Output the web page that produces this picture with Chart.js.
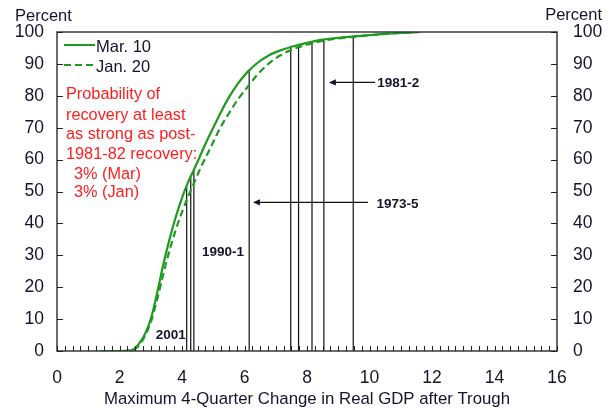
<!DOCTYPE html>
<html><head><meta charset="utf-8">
<script src="https://cdn.jsdelivr.net/npm/chart.js@4/dist/chart.umd.min.js"></script>
<style>html,body{margin:0;padding:0;background:#fff}#wrap{width:612px;height:410px;position:relative}</style>
</head><body><div id="wrap"><canvas id="c" width="612" height="410"></canvas></div>
<script>
// ---- data ----
const gridX = [1.4, 2.0, 2.4, 2.6, 2.8, 3.0, 3.2, 3.4, 3.6, 3.8, 4.0, 4.2, 4.4, 4.6, 4.8, 5.0, 5.2, 5.5, 5.8, 6.1, 6.4, 6.8, 7.2, 7.6, 8.0, 8.5, 9.0, 9.5, 10.0, 10.5, 11.0, 11.6];
const mar10 = [0, 0, 0.3, 2, 5, 10, 18, 27, 35, 42, 48, 53, 57.2, 61.6, 66, 70, 74, 79.5, 84, 87.5, 90.2, 92.8, 94.4, 95.6, 96.6, 97.6, 98.2, 98.6, 99.0, 99.4, 99.7, 100];
const jan20 = [0, 0, 0.2, 1.5, 4.5, 9, 16, 24, 31.5, 38, 43.5, 48.5, 53, 57.5, 61.5, 65.5, 69.5, 74.5, 79, 82.8, 86.5, 90.3, 93, 94.8, 96, 97.2, 98, 98.5, 99, 99.4, 99.7, 100];
const recoveryX = [4.15, 4.28, 4.38, 6.15, 7.48, 7.73, 8.16, 8.54, 9.48];
const recoveryTop = [51.5, 54.5, 56.5, 88, 95.3, 95.9, 96.9, 97.6, 98.5];
const xTickValues = [0, 2, 4, 6, 8, 10, 12, 14, 16];
const yTickValues = [0, 10, 20, 30, 40, 50, 60, 70, 80, 90, 100];
const seriesNames = ['Mar. 10', 'Jan. 20'];
const noteLines = ['Probability of', 'recovery at least', 'as strong as post-', '1981-82 recovery:', '  3% (Mar)', '  3% (Jan)'];
const episodeLabels = ['1981-2', '1973-5', '1990-1', '2001'];

// ---- styles ----
const FONT = '"Liberation Sans", Arial, sans-serif';
const TXT = '#14142a';
const GREEN = '#1f9a1f';

const recoverySegments = [];
recoveryX.forEach((x, i) => {
  recoverySegments.push({x: x, y: 0}, {x: x, y: recoveryTop[i]}, {x: x, y: null});
});

const decor = {
  id: 'decor',
  afterDatasetsDraw(chart) {
    const ctx = chart.ctx, a = chart.chartArea;
    const xs = chart.scales.x, ys = chart.scales.y;
    ctx.save();
    // frame
    ctx.strokeStyle = '#3a3a3a';
    ctx.lineWidth = 1.5;
    ctx.strokeRect(a.left, a.top, a.right - a.left, a.bottom - a.top);
    // inward ticks
    ctx.lineWidth = 1;
    ctx.strokeStyle = '#222';
    ctx.beginPath();
    for (let k = 0; k <= 64; k++) {
      const px = Math.round(xs.getPixelForValue(k * 0.25)) + 0.5;
      ctx.moveTo(px, a.bottom); ctx.lineTo(px, a.bottom - 5);
    }
    yTickValues.forEach(v => {
      const py = Math.round(ys.getPixelForValue(v)) + 0.5;
      ctx.moveTo(a.left, py); ctx.lineTo(a.left + 6, py);
      ctx.moveTo(a.right, py); ctx.lineTo(a.right - 6, py);
    });
    ctx.stroke();

    // Percent labels
    ctx.fillStyle = TXT;
    ctx.font = '16.5px ' + FONT;
    ctx.textBaseline = 'middle';
    ctx.textAlign = 'left';
    ctx.fillText('Percent', 15, 16);
    ctx.textAlign = 'right';
    ctx.fillText('Percent', 602, 15);

    // legend
    ctx.textAlign = 'left';
    ctx.lineWidth = 2;
    ctx.strokeStyle = GREEN;
    ctx.setLineDash([]);
    ctx.beginPath(); ctx.moveTo(64, 45); ctx.lineTo(95, 45); ctx.stroke();
    ctx.setLineDash([7, 4]);
    ctx.beginPath(); ctx.moveTo(64, 65); ctx.lineTo(95, 65); ctx.stroke();
    ctx.setLineDash([]);
    ctx.fillStyle = TXT;
    ctx.font = '16.5px ' + FONT;
    ctx.fillText(seriesNames[0], 96, 47);
    ctx.fillText(seriesNames[1], 96, 67);

    // red note
    ctx.fillStyle = '#ff1e1e';
    ctx.font = '16.3px ' + FONT;
    const noteY = [95, 116, 135, 155, 175, 193];
    noteLines.forEach((t, i) => {
      const s = t.replace(/^\s+/, '');
      ctx.fillText(s, t === s ? 66 : 74, noteY[i]);
    });

    // episode annotations
    ctx.fillStyle = TXT;
    ctx.strokeStyle = '#111';
    ctx.font = 'bold 13.5px ' + FONT;
    const arrow = (tipX, tailX, yv) => {
      const t = xs.getPixelForValue(tipX), e = xs.getPixelForValue(tailX), y = ys.getPixelForValue(yv);
      ctx.lineWidth = 1.2;
      ctx.beginPath(); ctx.moveTo(t + 5, y); ctx.lineTo(e, y); ctx.stroke();
      ctx.beginPath(); ctx.moveTo(t, y); ctx.lineTo(t + 7, y - 3.2); ctx.lineTo(t + 7, y + 3.2); ctx.closePath(); ctx.fill();
    };
    arrow(8.70, 10.18, 84.2);
    arrow(6.27, 9.95, 46.6);
    const lab = (txt, xv, yv) => ctx.fillText(txt, xs.getPixelForValue(xv), ys.getPixelForValue(yv));
    lab(episodeLabels[0], 10.25, 84);
    lab(episodeLabels[1], 10.22, 46);
    lab(episodeLabels[2], 4.64, 31);
    lab(episodeLabels[3], 3.16, 4.8);
    ctx.restore();
  }
};

new Chart(document.getElementById('c'), {
  type: 'line',
  data: {
    datasets: [
      {label: seriesNames[0], data: gridX.map((x, i) => ({x: x, y: mar10[i]})), borderColor: GREEN, borderWidth: 2.2, pointRadius: 0, cubicInterpolationMode: 'monotone', yAxisID: 'y'},
      {label: seriesNames[1], data: gridX.map((x, i) => ({x: x, y: jan20[i]})), borderColor: GREEN, borderWidth: 2.2, borderDash: [7, 4], pointRadius: 0, cubicInterpolationMode: 'monotone', yAxisID: 'y'},
      {label: 'recoveries', data: recoverySegments, borderColor: '#111', borderWidth: 1.2, pointRadius: 0, spanGaps: false, yAxisID: 'y'}
    ]
  },
  options: {
    responsive: false, animation: false, devicePixelRatio: 1,
    layout: {padding: {top: 32, left: 0, right: 0, bottom: 0}},
    plugins: {legend: {display: false}, tooltip: {enabled: false}, title: {display: false}},
    scales: {
      x: {
        type: 'linear', min: 0, max: 16,
        afterBuildTicks: s => { s.ticks = xTickValues.map(v => ({value: v})); },
        afterFit: s => { s.height = 59; },
        grid: {display: false, drawTicks: false},
        border: {display: false},
        ticks: {color: TXT, font: {family: FONT, size: 17.5}, padding: 17, maxRotation: 0},
        title: {display: true, text: 'Maximum 4-Quarter Change in Real GDP after Trough', color: TXT, font: {family: FONT, size: 16.8}, padding: {top: 0, bottom: 1}}
      },
      y: {
        type: 'linear', position: 'left', min: 0, max: 100,
        afterBuildTicks: s => { s.ticks = yTickValues.map(v => ({value: v})); },
        afterFit: s => { s.width = 57; },
        grid: {display: false, drawTicks: false},
        border: {display: false},
        ticks: {color: TXT, font: {family: FONT, size: 17.5}, padding: 13}
      },
      y2: {
        type: 'linear', position: 'right', min: 0, max: 100,
        afterBuildTicks: s => { s.ticks = yTickValues.map(v => ({value: v})); },
        afterFit: s => { s.width = 55; },
        grid: {display: false, drawTicks: false},
        border: {display: false},
        ticks: {color: TXT, font: {family: FONT, size: 17.5}, padding: 16}
      }
    }
  },
  plugins: [decor]
});
</script></body></html>
